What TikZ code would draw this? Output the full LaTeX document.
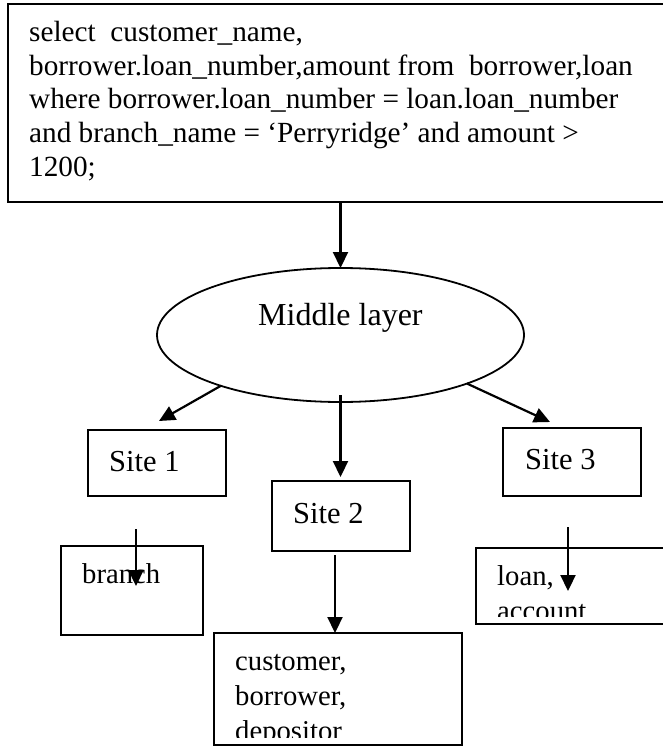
\documentclass[tikz,border=0pt]{standalone}
\usepackage{fontspec}
\setmainfont{Liberation Serif}
\usetikzlibrary{arrows.meta,shapes.geometric,calc}

\begin{document}
\begin{tikzpicture}[x=1pt,y=-1pt,
  box/.style={draw,line width=1.6pt,rectangle,anchor=north west,inner sep=0pt,outer sep=0pt},
  sqltext/.style={anchor=base west,inner sep=0pt,font=\fontsize{29.25}{33.6}\selectfont},
  sitetext/.style={anchor=base west,inner sep=0pt,font=\fontsize{30.5}{36}\selectfont},
  tabletext/.style={anchor=base west,inner sep=0pt,font=\fontsize{28.7}{35}\selectfont},
  flow/.style={line width=2.2pt,-{Triangle[length=16pt,width=15pt]}}
]
\useasboundingbox (0,0) rectangle (662,746);
\fill[white] (0,0) rectangle (662,746);

% query box
\node[box,minimum width=692pt,minimum height=198pt] (query) at (8,4) {};
\node[sqltext] (q1) at (29,42) {select\ \ customer\_name,};
\node[sqltext] (q2) at (29,75.5) {borrower.loan\_number,amount from\ \ borrower,loan};
\node[sqltext] (q3) at (29,109) {where borrower.loan\_number = loan.loan\_number};
\node[sqltext] (q4) at (29,142.5) {and branch\_name = ‘Perryridge’ and amount >};
\node[sqltext] (q5) at (29,176) {1200;};

% middle layer
\node[draw,ellipse,line width=1.8pt,minimum width=367pt,minimum height=134pt,
      inner sep=0pt,outer sep=0pt] (mid) at (340.5,335) {};
\node[anchor=base west,inner sep=0pt,font=\fontsize{32}{38}\selectfont] (midtxt) at (258,325) {Middle layer};

% sites
\node[box,minimum width=138pt,minimum height=66pt] (site1) at (88,430) {};
\node[sitetext] (site1txt) at (109,471) {Site 1};
\node[box,minimum width=138pt,minimum height=70pt] (site2) at (272,481) {};
\node[sitetext] (site2txt) at (293,523) {Site 2};
\node[box,minimum width=138pt,minimum height=68pt] (site3) at (503,428) {};
\node[sitetext] (site3txt) at (525,469) {Site 3};

% fragments held at each site
\node[box,minimum width=142pt,minimum height=89pt] (branch) at (61,546) {};
\node[tabletext] (branchtxt) at (82,583) {branch};

\node[box,minimum width=248pt,minimum height=112pt] (dep) at (214,633) {};
\begin{scope}
  \clip (214,633) rectangle (462,737);
  \node[tabletext] (dep1) at (235,670) {customer,};
  \node[tabletext] (dep2) at (235,705) {borrower,};
  \node[tabletext] (dep3) at (235,740) {depositor};
\end{scope}

\node[box,minimum width=240pt,minimum height=76pt] (loan) at (476,548) {};
\begin{scope}
  \clip (476,548) rectangle (700,616);
  \node[tabletext] (loan1) at (497,585) {loan,};
  \node[tabletext] (loan2) at (497,620) {account};
\end{scope}

% free ends of the connectors
\coordinate (toSite1) at (159,421);
\coordinate (toSite3) at (550,422);
\coordinate (fromSite1) at (136,529);
\coordinate (intoBranch) at (136,586);
\coordinate (fromSite2) at (335,555);
\coordinate (fromSite3) at (568,527);
\coordinate (intoLoan) at (568,591);

% connectors
\draw[flow] (mid.north |- query.south) -- (mid.north);
\draw[flow] (mid.203.7) -- (toSite1);
\draw[flow] ([yshift=7pt]mid.south) -- ([yshift=4pt]mid.south |- site2.north);
\draw[flow] (mid.339.2) -- (toSite3);
\draw[flow] (fromSite1) -- (intoBranch);
\draw[flow] (fromSite2) -- (fromSite2 |- dep.north);
\draw[flow] (fromSite3) -- (intoLoan);
\end{tikzpicture}
\end{document}
